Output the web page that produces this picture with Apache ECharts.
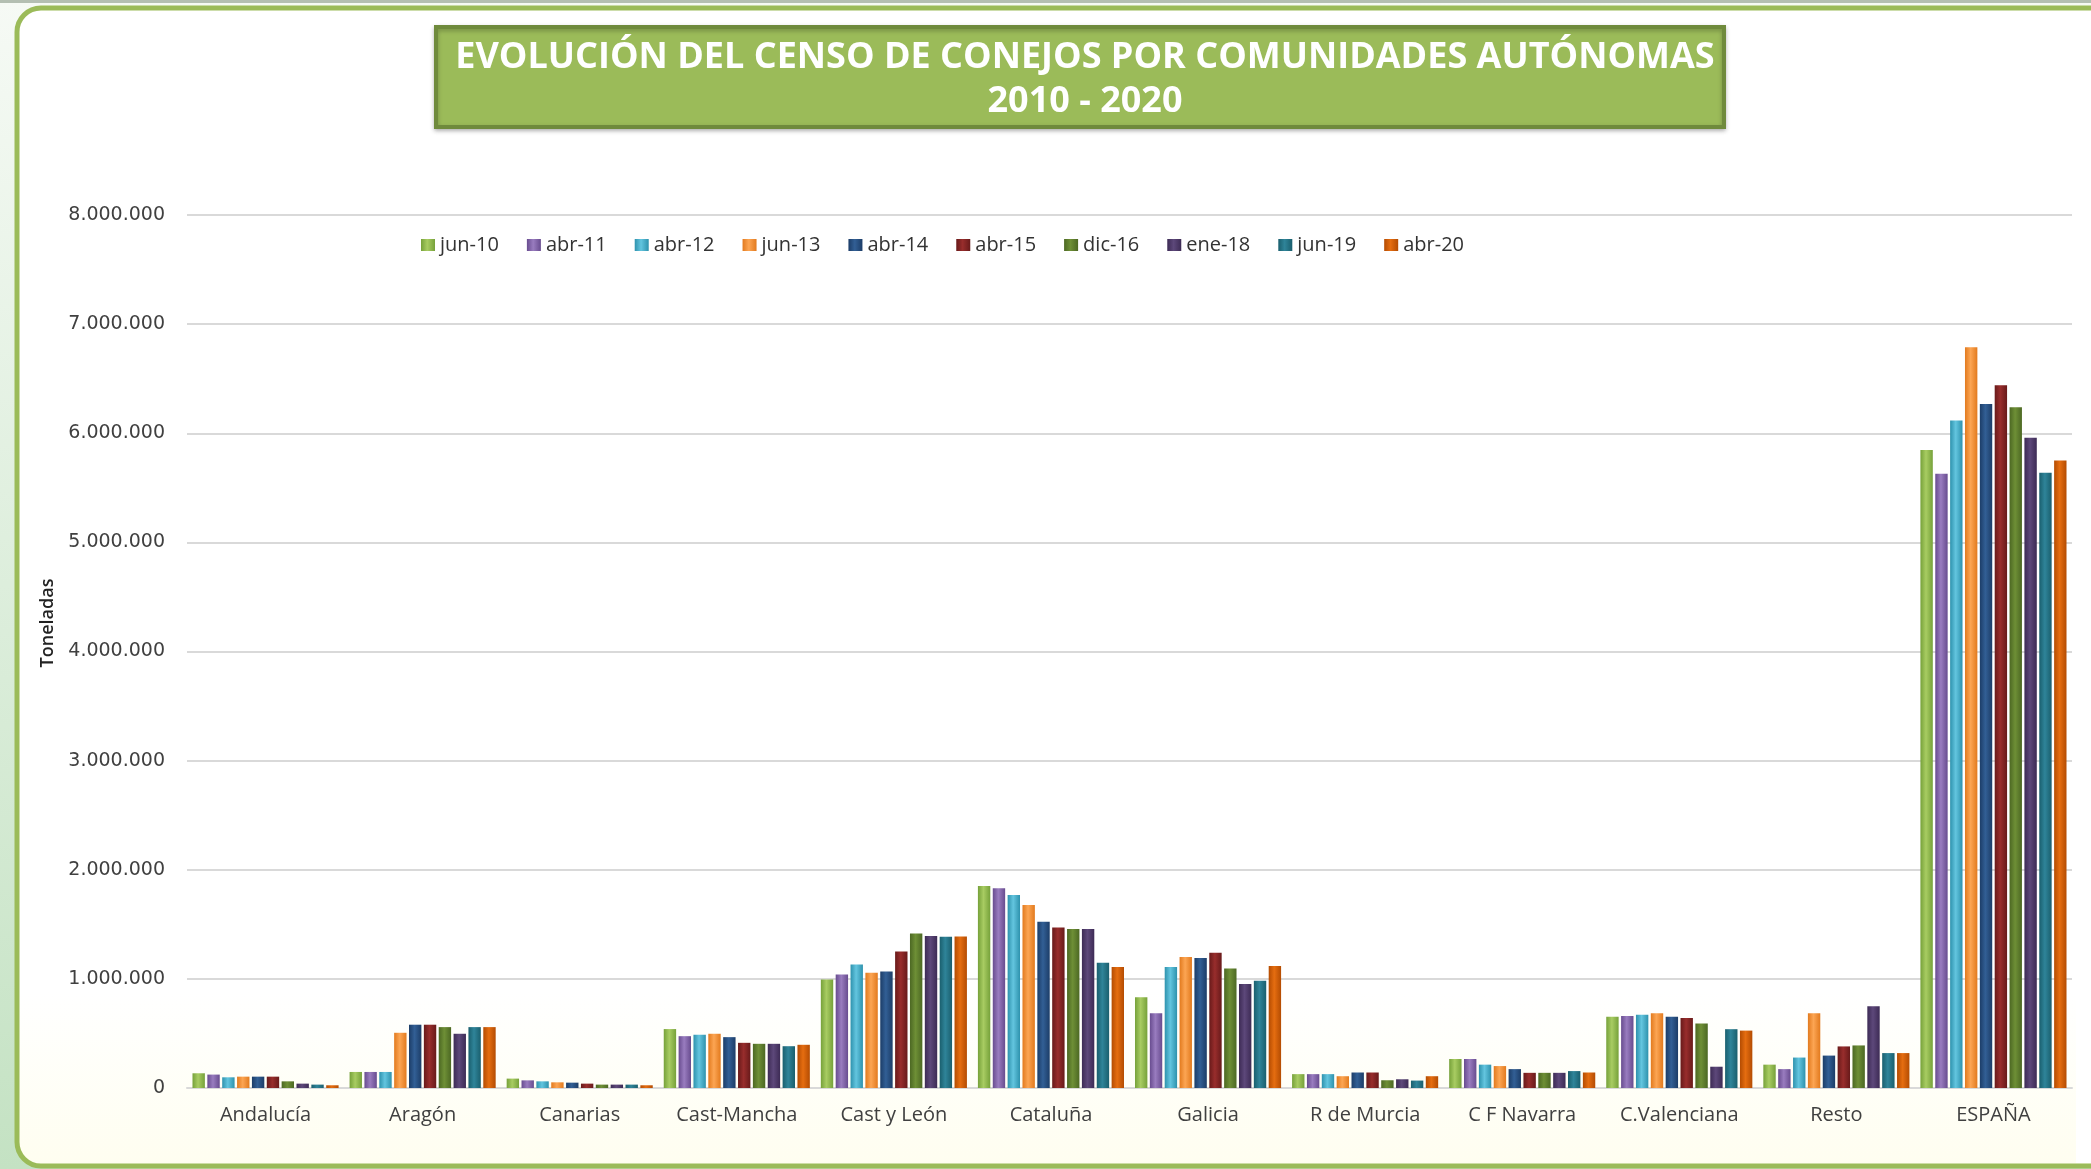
<!DOCTYPE html>
<html>
<head>
<meta charset="utf-8">
<script src="https://cdn.jsdelivr.net/npm/echarts@6/dist/echarts.min.js"></script>
<style>
  html, body { margin: 0; padding: 0; background: #fff; overflow: hidden; }
  #main { width: 2091px; height: 1169px; }
</style>
</head>
<body>
<div id="main"></div>
<script>
// categories (comunidades) and census dates
var categories = ['Andalucía', 'Aragón', 'Canarias', 'Cast-Mancha', 'Cast y León', 'Cataluña',
                  'Galicia', 'R de Murcia', 'C F Navarra', 'C.Valenciana', 'Resto', 'ESPAÑA'];
var periods = ['jun-10', 'abr-11', 'abr-12', 'jun-13', 'abr-14', 'abr-15', 'dic-16', 'ene-18', 'jun-19', 'abr-20'];

// one array per date, values per category
var jun10 = [135000, 147000, 86000, 540000, 994000, 1852000, 831000, 127000, 266000, 653000, 214000, 5846000];
var abr11 = [123000, 147000, 70000, 475000, 1040000, 1831000, 686000, 127000, 266000, 659000, 173000, 5628000];
var abr12 = [98000, 147000, 61000, 488000, 1132000, 1769000, 1108000, 127000, 214000, 672000, 279000, 6116000];
var jun13 = [104000, 506000, 52000, 497000, 1055000, 1677000, 1200000, 108000, 201000, 684000, 684000, 6787000];
var abr14 = [104000, 580000, 49000, 466000, 1068000, 1523000, 1191000, 142000, 173000, 653000, 297000, 6268000];
var abr15 = [104000, 580000, 40000, 414000, 1252000, 1471000, 1240000, 142000, 139000, 641000, 381000, 6441000];
var dic16 = [61000, 558000, 31000, 405000, 1415000, 1458000, 1095000, 71000, 139000, 591000, 390000, 6238000];
var ene18 = [40000, 497000, 31000, 405000, 1394000, 1458000, 954000, 80000, 139000, 195000, 749000, 5958000];
var jun19 = [31000, 558000, 31000, 383000, 1385000, 1148000, 982000, 68000, 155000, 539000, 320000, 5638000];
var abr20 = [25000, 558000, 25000, 396000, 1388000, 1108000, 1117000, 108000, 142000, 526000, 320000, 5750000];
var seriesData = [jun10, abr11, abr12, jun13, abr14, abr15, dic16, ene18, jun19, abr20];

var yTicks = [0, 1000000, 2000000, 3000000, 4000000, 5000000, 6000000, 7000000, 8000000];

// edge / centre colours for the cylinder-like bars
var edgeColors = ['#76A13A', '#684C8F', '#2E92AD', '#E27A1E', '#1C3D68', '#681A1A', '#4C6823', '#3D2B55', '#1A5F6E', '#B44C02'];
var midColors  = ['#A8CC62', '#997CBF', '#63C5DF', '#FCA553', '#325F95', '#982D2C', '#6E8F36', '#5D487A', '#2F8499', '#E56D10'];

function thousands(v) {
  return String(v).replace(/\B(?=(\d{3})+(?!\d))/g, '.');
}

var chart = echarts.init(document.getElementById('main'));

var series = periods.map(function (p, i) {
  return {
    name: p,
    type: 'bar',
    data: seriesData[i],
    barGap: '20%',
    barCategoryGap: '7%',
    itemStyle: {
      color: new echarts.graphic.LinearGradient(0, 0, 1, 0, [
        { offset: 0, color: edgeColors[i] },
        { offset: 0.45, color: midColors[i] },
        { offset: 1, color: edgeColors[i] }
      ])
    }
  };
});

var panelFill = new echarts.graphic.LinearGradient(0, 0, 0, 1, [
  { offset: 0, color: '#FFFFFF' }, { offset: 0.85, color: '#FFFFFF' }, { offset: 1, color: '#FFFEF0' }
]);

// frame: panel border open on the right, rounded on the left
var frameStroke = { stroke: '#9BBB59', lineWidth: 5, fill: null };
var frame = [
  { type: 'line', shape: { x1: 41, y1: 8, x2: 2100, y2: 8 } },
  { type: 'line', shape: { x1: 17, y1: 32, x2: 17, y2: 1142 } },
  { type: 'line', shape: { x1: 41, y1: 1166, x2: 2100, y2: 1166 } },
  { type: 'arc', shape: { cx: 41, cy: 32, r: 24, startAngle: Math.PI, endAngle: Math.PI * 1.5 } },
  { type: 'arc', shape: { cx: 41, cy: 1142, r: 24, startAngle: Math.PI * 0.5, endAngle: Math.PI } }
].map(function (el) {
  el.z = -17;
  el.silent = true;
  el.style = frameStroke;
  return el;
});

var option = {
  animation: false,
  graphic: [
    {
      // outer light green background
      type: 'rect', z: -20, silent: true,
      shape: { x: 0, y: 0, width: 2091, height: 1169 },
      style: { fill: new echarts.graphic.LinearGradient(0, 0, 0, 1, [
        { offset: 0, color: '#F6FAF5' }, { offset: 1, color: '#C4E2C3' }
      ]) }
    },
    {
      type: 'rect', z: -19, silent: true,
      shape: { x: 0, y: 0, width: 2091, height: 3 },
      style: { fill: '#B4BFB2' }
    },
    {
      // white panel
      type: 'rect', z: -18, silent: true,
      shape: { x: 17, y: 8, width: 2074, height: 1158, r: [24, 0, 0, 24] },
      style: { fill: panelFill }
    },
    {
      // keep the right edge of the panel open
      type: 'rect', z: -16, silent: true,
      shape: { x: 2076, y: 11, width: 20, height: 1152 },
      style: { fill: '#FFFFFF' }
    },
    {
      // title box
      type: 'rect', z: -10, silent: true,
      shape: { x: 436, y: 27, width: 1288, height: 100 },
      style: { fill: '#9BBB59', stroke: '#6F8A3C', lineWidth: 4,
               shadowBlur: 4, shadowColor: 'rgba(0,0,0,0.25)', shadowOffsetY: 2 }
    },
    {
      // y axis title, sits above the middle of the axis
      type: 'text', z: 10, silent: true,
      x: 48, y: 623, rotation: Math.PI / 2,
      style: {
        text: 'Toneladas',
        fontFamily: 'Open Sans', fontWeight: 600, fontSize: 18, fill: '#222222',
        align: 'center', verticalAlign: 'middle'
      }
    }
  ].concat(frame),
  title: {
    text: 'EVOLUCIÓN DEL CENSO DE CONEJOS POR COMUNIDADES AUTÓNOMAS\n2010 - 2020',
    left: 1080,
    top: 31,
    textAlign: 'center',
    textStyle: {
      fontFamily: 'Open Sans',
      fontWeight: 'bold',
      fontSize: 36,
      lineHeight: 44,
      color: '#FFFFFF'
    }
  },
  legend: {
    data: periods,
    left: 416,
    top: 230,
    itemWidth: 14,
    itemHeight: 12,
    itemGap: 28,
    icon: 'rect',
    textStyle: { fontFamily: 'Open Sans', fontSize: 20, color: '#333333' }
  },
  grid: { left: 187, right: 19, top: 215, bottom: 81, containLabel: false },
  xAxis: {
    type: 'category',
    data: categories,
    axisTick: { show: false },
    axisLine: { lineStyle: { color: '#D9D9D9', width: 2 } },
    axisLabel: { margin: 17, fontFamily: 'Open Sans', fontSize: 20, color: '#404040', interval: 0 }
  },
  yAxis: {
    type: 'value',
    min: yTicks[0],
    max: yTicks[yTicks.length - 1],
    interval: 1000000,
    axisLine: { show: false },
    axisTick: { show: false },
    axisLabel: { margin: 22, fontFamily: 'DejaVu Sans', fontSize: 19, color: '#404040', formatter: thousands },
    splitLine: { lineStyle: { color: '#D9D9D9', width: 2 } }
  },
  series: series
};

chart.setOption(option);
</script>
</body>
</html>
